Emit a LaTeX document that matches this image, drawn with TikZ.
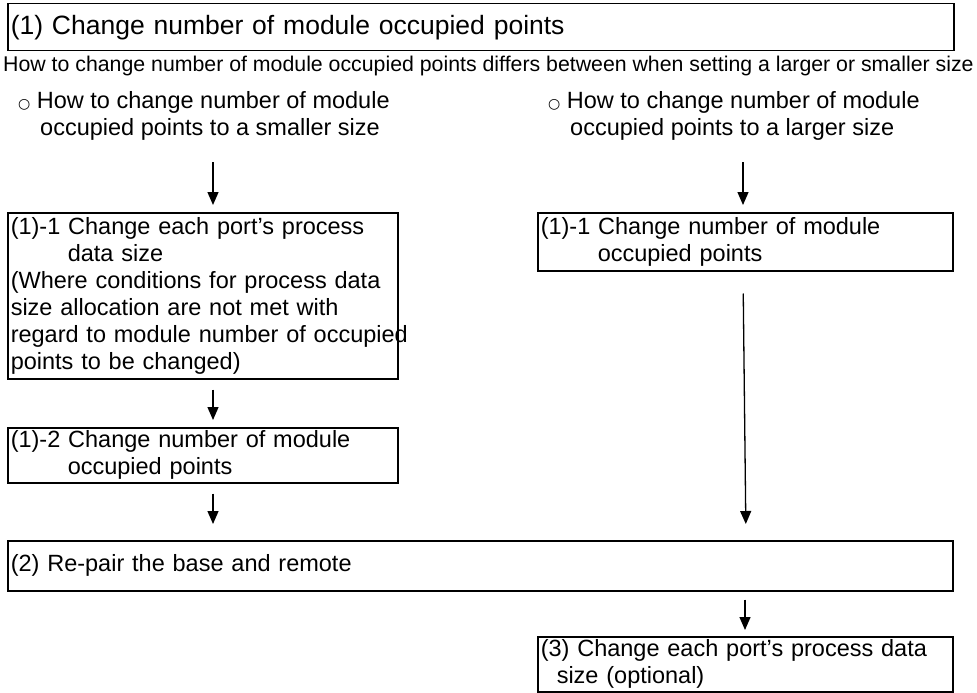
\documentclass[tikz,border=0pt]{standalone}
\usepackage{fontspec}
\setmainfont{Liberation Sans}
\newfontfamily\symfont{DejaVu Sans}
\usetikzlibrary{arrows.meta,calc}

\newcommand{\bodyfont}{\fontsize{23.5}{27}\selectfont}
\newcommand{\ring}{{\symfont\fontsize{14}{14}\selectfont ○}}

\begin{document}
\begin{tikzpicture}[x=1pt, y=-1pt,
    box/.style={draw, line width=1.5pt, anchor=north west, align=left,
      inner xsep=3pt, inner ysep=0pt, font=\bodyfont},
    arr/.style={line width=1.3pt, -{Triangle[length=13pt,width=11pt]}}]
  \useasboundingbox (0,0) rectangle (977,693);

  % Heading and note
  \node[box, minimum width=946pt, minimum height=47pt, text width=940pt,
    font=\fontsize{26.5}{30}\selectfont] (title) at (7,3)
    {(1) Change number of module occupied points};
  \node[anchor=west, inner sep=0pt, font=\fontsize{21.3}{24}\selectfont] (note) at (3,66)
    {How to change number of module occupied points differs between when setting a larger or smaller size};

  % The two ways
  \node[anchor=north west, inner sep=0pt, align=left, font=\bodyfont] (hdrL) at (18,91)
    {\ring\ How to change number of module\\\hspace*{22pt}occupied points to a smaller size};
  \node[anchor=north west, inner sep=0pt, align=left, font=\bodyfont] (hdrR) at (548,91)
    {\ring\ How to change number of module\\\hspace*{22pt}occupied points to a larger size};

  % Steps
  \node[box, minimum width=390pt, minimum height=166pt, text width=384pt] (boxL1) at (7,212)
    {(1)-1 Change each port’s process\\\hspace*{57pt}data size\\
     (Where conditions for process data\\size allocation are not met with\\
     \mbox{regard to module number of occupied}\\points to be changed)};
  \node[box, minimum width=390pt, minimum height=55pt, text width=384pt] (boxL2) at (7,427)
    {(1)-2 Change number of module\\\hspace*{57pt}occupied points};
  \node[box, minimum width=415pt, minimum height=58pt, text width=409pt] (boxR1) at (537,212)
    {(1)-1 Change number of module\\\hspace*{57pt}occupied points};
  \node[box, minimum width=945pt, minimum height=50pt, text width=939pt] (box2) at (7,540)
    {(2) Re-pair the base and remote};
  \node[box, minimum width=415pt, minimum height=55pt, text width=409pt] (box3) at (537,636)
    {(3) Change each port’s process data\\\hspace*{16pt}size (optional)};

  % Arrows
  \coordinate (tL) at (213,162);
  \coordinate (tR) at (743,162);
  \draw[arr, shorten >=7pt] (tL) -- (boxL1.north -| tL);
  \draw[arr, shorten >=7pt] (tR) -- (boxR1.north -| tR);
  \draw[arr, shorten <=10pt, shorten >=7pt] (boxL1.south -| tL) -- (boxL2.north -| tL);
  \draw[arr, shorten <=10pt, shorten >=16pt] (boxL2.south -| tL) -- (box2.north -| tL);
  \draw[arr, shorten <=22pt, shorten >=16pt] (boxR1.south -| tR) -- ($(box2.north -| tR)+(3,0)$);
  \draw[arr, shorten <=8pt, shorten >=6pt] ($(box2.south -| tR)+(2,0)$) -- ($(box3.north -| tR)+(2,0)$);
\end{tikzpicture}
\end{document}
